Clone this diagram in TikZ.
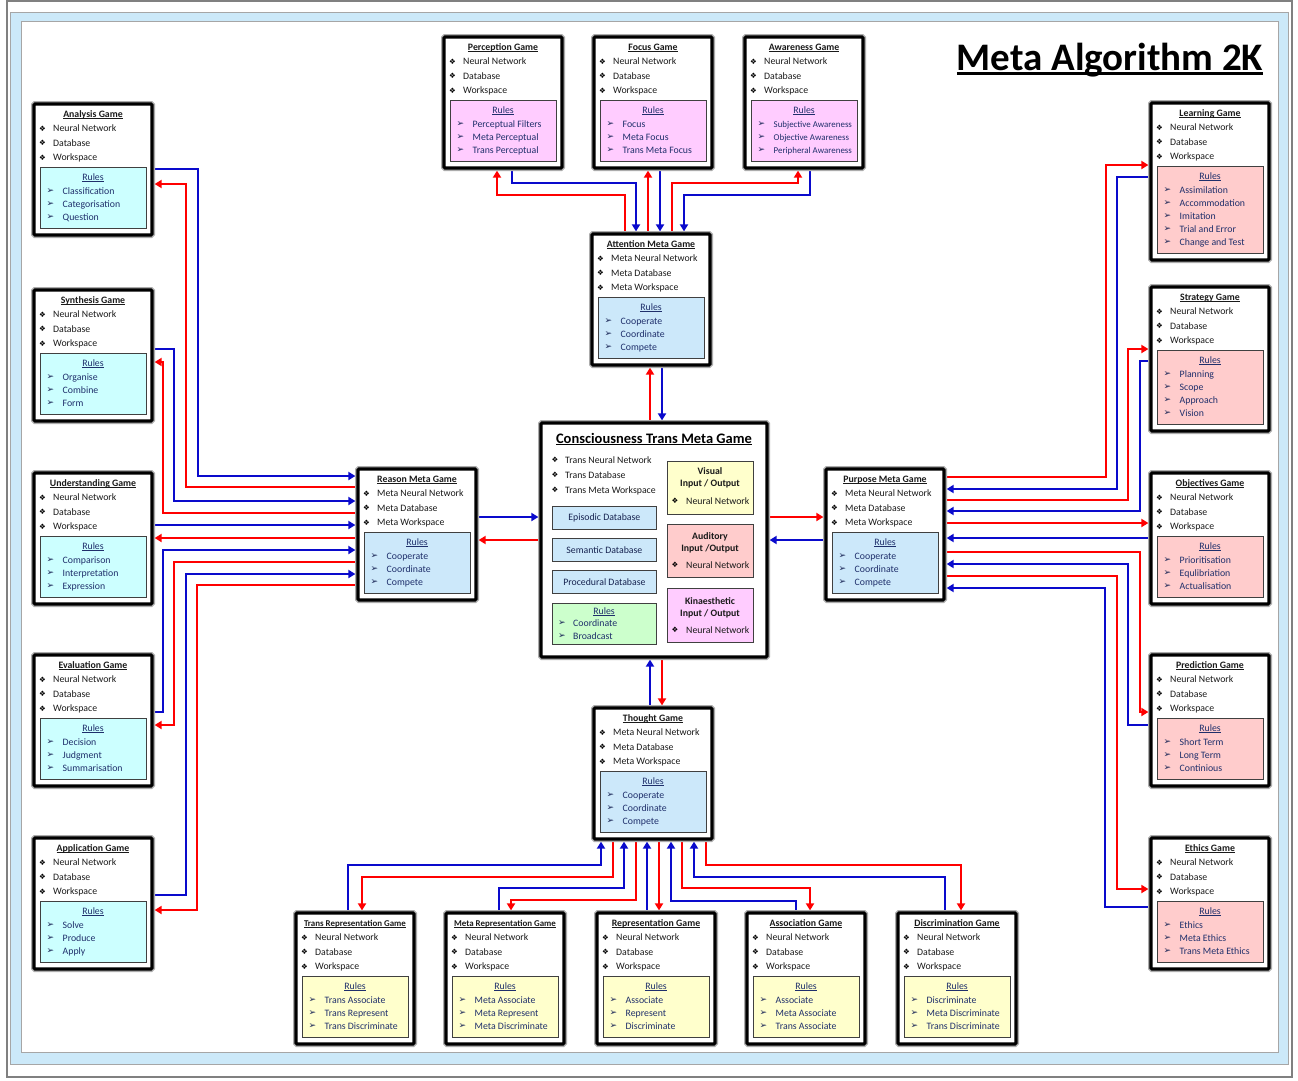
\documentclass[tikz,border=0pt]{standalone}
\usepackage{fontspec}
\setmainfont{Carlito}
\newfontfamily\dejavu{DejaVu Sans}
\usetikzlibrary{arrows.meta,calc}
\definecolor{cyanf}{HTML}{CCFFFF}
\definecolor{pinkf}{HTML}{FFCCFF}
\definecolor{bluef}{HTML}{CCE8FA}
\definecolor{redf}{HTML}{FFCCCC}
\definecolor{yellowf}{HTML}{FFFFCC}
\definecolor{greenf}{HTML}{CCFFCC}
\definecolor{framef}{HTML}{CCE9F9}
\definecolor{navy}{HTML}{1F2F6B}
\definecolor{lred}{HTML}{FF0000}
\definecolor{lblue}{HTML}{0A0ACC}
\definecolor{ink}{HTML}{1A1A1A}
\pgfdeclarelayer{bg}
\pgfdeclarelayer{lines}
\pgfsetlayers{bg,lines,main}

\newcommand\ulx[1]{\setbox0\hbox{#1}\rlap{\rule[-1.3pt]{\wd0}{0.65pt}}\box0}
\newcommand\dia{{\dejavu\fontsize{7.5}{7.5}\selectfont\char"2756}}
\newcommand\arr{{\dejavu\fontsize{9}{9}\selectfont\color{navy!80!black}\char"27A2}}
\newcommand\sm{\fontsize{8.9}{10}\selectfont}

\tikzset{
  gbox/.style={preaction={draw=gray!65,line width=6pt}, draw=black, line width=3.2pt, fill=white, minimum width=118pt, inner sep=0pt, outer sep=0pt, rounded corners=1.2pt},
  rbox/.style={draw=gray!50!black, line width=0.8pt, minimum width=106pt, inner sep=0pt},
  ibox/.style={draw=gray!50!black, line width=0.8pt, inner sep=0pt, anchor=north west},
  txt/.style={inner sep=0pt, text=ink, font=\fontsize{9.8}{11}\selectfont},
  btxt/.style={txt, font=\fontsize{9.8}{11}\selectfont\bfseries, anchor=base},
  rtxt/.style={txt, text=navy},
  rline/.style={draw=lred, line width=2.4pt, -{Triangle[length=7pt,width=8pt]}, shorten >=2.6pt},
  bline/.style={draw=lblue, line width=2.4pt, -{Triangle[length=7pt,width=8pt]}, shorten >=2.6pt},
}

% #1 name, #2 x, #3 y, #4 number of rules, #5 title, #6 items, #7 fill, #8 rules, #9 title size
\newcommand\gamebox[9]{%
  \pgfmathsetmacro\rh{22+13*#4}%
  \pgfmathsetmacro\bh{70+22+13*#4}%
  \node[gbox, minimum height=\bh pt, anchor=north west] (#1) at (#2,#3) {};
  \node[rbox, fill=#7, minimum height=\rh pt, anchor=north] (#1-r) at ($(#1.north)+(0,63)$) {};
  \node[txt, anchor=base, font=\fontsize{#9}{11}\selectfont\bfseries] at ($(#1.north)+(0,13.3)$) {\ulx{#5}};
  \foreach \itm [count=\cnt] in {#6} {
    \node[inner sep=0pt] at ($(#1.north west)+(8.5,10+14.5*\cnt)$) {\dia};
    \node[txt, anchor=base west] at ($(#1.north west)+(19,13.3+14.5*\cnt)$) {\itm};
  }
  \node[rtxt, anchor=base] at ($(#1.north)+(0,76.3)$) {\ulx{Rules}};
  \foreach \itm [count=\cnt] in {#8} {
    \node[inner sep=0pt] at ($(#1.north west)+(16.5,74.3+13*\cnt)$) {\arr};
    \node[rtxt, anchor=base west] at ($(#1.north west)+(28.5,77.3+13*\cnt)$) {\itm};
  }%
}

\begin{document}
\begin{tikzpicture}[x=1pt,y=-1pt]
\useasboundingbox (0,0) rectangle (1298,1080);
\begin{pgfonlayer}{bg}
  \fill[white] (0,0) rectangle (1298,1080);
  \draw[gray, line width=1.2pt] (7,1) rectangle (1292,1077);
  \draw[fill=framef, draw=gray!70, line width=0.8pt] (10,12) rectangle (1288,1064);
  \draw[fill=white, draw=gray!70, line width=0.8pt] (21,21) rectangle (1278,1052);
\end{pgfonlayer}

% title
\node[anchor=base, inner sep=0pt, font=\fontsize{39}{40}\selectfont\bfseries, text=black] (title) at (1110,70)
  {\setbox0\hbox{Meta Algorithm 2K}\rlap{\rule[-4.8pt]{\wd0}{2.6pt}}\box0};

% left column
\gamebox{analysis}{34}{104}{3}{Analysis Game}{Neural Network,Database,Workspace}{cyanf}{Classification,Categorisation,Question}{9.8}
\gamebox{synthesis}{34}{290}{3}{Synthesis Game}{Neural Network,Database,Workspace}{cyanf}{Organise,Combine,Form}{9.8}
\gamebox{understanding}{34}{473}{3}{Understanding Game}{Neural Network,Database,Workspace}{cyanf}{Comparison,Interpretation,Expression}{9.8}
\gamebox{evaluation}{34}{655}{3}{Evaluation Game}{Neural Network,Database,Workspace}{cyanf}{Decision,Judgment,Summarisation}{9.8}
\gamebox{application}{34}{838}{3}{Application Game}{Neural Network,Database,Workspace}{cyanf}{Solve,Produce,Apply}{9.8}

% right column
\gamebox{learning}{1151}{103}{5}{Learning Game}{Neural Network,Database,Workspace}{redf}{Assimilation,Accommodation,Imitation,Trial and Error,Change and Test}{9.8}
\gamebox{strategy}{1151}{287}{4}{Strategy Game}{Neural Network,Database,Workspace}{redf}{Planning,Scope,Approach,Vision}{9.8}
\gamebox{objectives}{1151}{473}{3}{Objectives Game}{Neural Network,Database,Workspace}{redf}{Prioritisation,Equlibriation,Actualisation}{9.8}
\gamebox{prediction}{1151}{655}{3}{Prediction Game}{Neural Network,Database,Workspace}{redf}{Short Term,Long Term,Continious}{9.8}
\gamebox{ethics}{1151}{838}{3}{Ethics Game}{Neural Network,Database,Workspace}{redf}{Ethics,Meta Ethics,Trans Meta Ethics}{9.8}

% top row
\gamebox{perception}{444}{37}{3}{Perception Game}{Neural Network,Database,Workspace}{pinkf}{Perceptual Filters,Meta Perceptual,Trans Perceptual}{9.8}
\gamebox{focus}{594}{37}{3}{Focus Game}{Neural Network,Database,Workspace}{pinkf}{Focus,Meta Focus,Trans Meta Focus}{9.8}
\gamebox{awareness}{745}{37}{3}{Awareness Game}{Neural Network,Database,Workspace}{pinkf}{\sm Subjective Awareness,\sm Objective Awareness,\sm Peripheral Awareness}{9.8}

% meta games
\gamebox{attention}{592}{234}{3}{Attention Meta Game}{Meta Neural Network,Meta Database,Meta Workspace}{bluef}{Cooperate,Coordinate,Compete}{9.8}
\gamebox{reason}{358}{469}{3}{Reason Meta Game}{Meta Neural Network,Meta Database,Meta Workspace}{bluef}{Cooperate,Coordinate,Compete}{9.8}
\gamebox{purpose}{826}{469}{3}{Purpose Meta Game}{Meta Neural Network,Meta Database,Meta Workspace}{bluef}{Cooperate,Coordinate,Compete}{9.8}
\gamebox{thought}{594}{708}{3}{Thought Game}{Meta Neural Network,Meta Database,Meta Workspace}{bluef}{Cooperate,Coordinate,Compete}{9.8}

% bottom row
\gamebox{transrep}{296}{913}{3}{Trans Representation Game}{Neural Network,Database,Workspace}{yellowf}{Trans Associate,Trans Represent,Trans Discriminate}{8.9}
\gamebox{metarep}{446}{913}{3}{Meta Representation Game}{Neural Network,Database,Workspace}{yellowf}{Meta Associate,Meta Represent,Meta Discriminate}{8.9}
\gamebox{rep}{597}{913}{3}{Representation Game}{Neural Network,Database,Workspace}{yellowf}{Associate,Represent,Discriminate}{9.8}
\gamebox{assoc}{747}{913}{3}{Association Game}{Neural Network,Database,Workspace}{yellowf}{Associate,Meta Associate,Trans Associate}{9.8}
\gamebox{discr}{898}{913}{3}{Discrimination Game}{Neural Network,Database,Workspace}{yellowf}{Discriminate,Meta Discriminate,Trans Discriminate}{9.8}

% central box
\node[gbox, minimum width=226pt, minimum height=234pt, anchor=north west] (cons) at (541,423) {};
\node[txt, anchor=base, font=\fontsize{14.5}{16}\selectfont\bfseries, text=black] (constitle) at (654,443)
  {\setbox0\hbox{Consciousness Trans Meta Game}\rlap{\rule[-2pt]{\wd0}{1pt}}\box0};
\foreach \itm [count=\cnt] in {Trans Neural Network,Trans Database,Trans Meta Workspace} {
  \node[inner sep=0pt] at (555,445+15*\cnt) {\dia};
  \node[txt, anchor=base west] at (565,448.3+15*\cnt) {\itm};
}
\node[ibox, fill=bluef, minimum width=104pt, minimum height=23pt, font=\fontsize{9.8}{11}\selectfont, text=navy!75!black] (episodic) at (552,506) {Episodic Database};
\node[ibox, fill=bluef, minimum width=104pt, minimum height=23pt, font=\fontsize{9.8}{11}\selectfont, text=navy!75!black] (semantic) at (552,538) {Semantic Database};
\node[ibox, fill=bluef, minimum width=104pt, minimum height=23pt, font=\fontsize{9.8}{11}\selectfont, text=navy!75!black] (procedural) at (552,570) {Procedural Database};
\node[ibox, fill=greenf, minimum width=104pt, minimum height=41pt] (crules) at (552,603) {};
\node[rtxt, anchor=base] at (604,614.3) {\ulx{Rules}};
\node[inner sep=0pt] at (562,623.3) {\arr};
\node[rtxt, anchor=base west] at (573,626.3) {Coordinate};
\node[inner sep=0pt] at (562,636.3) {\arr};
\node[rtxt, anchor=base west] at (573,639.3) {Broadcast};

\node[ibox, fill=yellowf, minimum width=86pt, minimum height=53pt] (visual) at (667,461) {};
\node[btxt] at (710,474.3) {Visual};
\node[btxt] at (710,486.3) {Input / Output};
\node[inner sep=0pt] at (675,501) {\dia};
\node[txt, anchor=base west] at (686,504.3) {Neural Network};

\node[ibox, fill=redf, minimum width=86pt, minimum height=53pt] (auditory) at (667,524) {};
\node[btxt] at (710,539.3) {Auditory};
\node[btxt] at (710,551.3) {Input /Output};
\node[inner sep=0pt] at (675,565) {\dia};
\node[txt, anchor=base west] at (686,568.3) {Neural Network};

\node[ibox, fill=pinkf, minimum width=86pt, minimum height=54pt] (kinaesthetic) at (667,588) {};
\node[btxt] at (710,604.3) {Kinaesthetic};
\node[btxt] at (710,616.3) {Input / Output};
\node[inner sep=0pt] at (675,630) {\dia};
\node[txt, anchor=base west] at (686,633.3) {Neural Network};

\begin{pgfonlayer}{lines}
% left side
\draw[bline] (analysis.east |- 0,169) -| (198,476) -- (reason.west |- 0,476);
\draw[rline] (reason.west |- 0,487) -| (186,184) -- (analysis.east |- 0,184);
\draw[bline] (synthesis.east |- 0,349) -| (174,501) -- (reason.west |- 0,501);
\draw[rline] (reason.west |- 0,513) -| (163,362) -- (synthesis.east |- 0,362);
\draw[bline] (understanding.east |- 0,525) -- (reason.west |- 0,525);
\draw[rline] (reason.west |- 0,538) -- (understanding.east |- 0,538);
\draw[bline] (evaluation.east |- 0,712) -| (163,550) -- (reason.west |- 0,550);
\draw[rline] (reason.west |- 0,562) -| (174,725) -- (evaluation.east |- 0,725);
\draw[bline] (application.east |- 0,895) -| (186,574) -- (reason.west |- 0,574);
\draw[rline] (reason.west |- 0,585) -| (197,910) -- (application.east |- 0,910);
% right side
\draw[rline] (purpose.east |- 0,477) -| (1106,165) -- (learning.west |- 0,165);
\draw[bline] (learning.west |- 0,177) -| (1117,489) -- (purpose.east |- 0,489);
\draw[rline] (purpose.east |- 0,500) -| (1128,349) -- (strategy.west |- 0,349);
\draw[bline] (strategy.west |- 0,361) -| (1140,511) -- (purpose.east |- 0,511);
\draw[rline] (purpose.east |- 0,523) -- (objectives.west |- 0,523);
\draw[bline] (objectives.west |- 0,538) -- (purpose.east |- 0,538);
\draw[rline] (purpose.east |- 0,552) -| (1140,712) -- (prediction.west |- 0,712);
\draw[bline] (prediction.west |- 0,725) -| (1128,564) -- (purpose.east |- 0,564);
\draw[rline] (purpose.east |- 0,576) -| (1117,889) -- (ethics.west |- 0,889);
\draw[bline] (ethics.west |- 0,907) -| (1105,588) -- (purpose.east |- 0,588);
% top
\draw[rline] (attention.north -| 625,0) |- (497,195) -- (perception.south -| 497,0);
\draw[bline] (perception.south -| 512,0) |- (636,183) -- (attention.north -| 636,0);
\draw[rline] (attention.north -| 648,0) -- (focus.south -| 648,0);
\draw[bline] (focus.south -| 660,0) -- (attention.north -| 660,0);
\draw[rline] (attention.north -| 672,0) |- (798,183) -- (awareness.south -| 798,0);
\draw[bline] (awareness.south -| 810,0) |- (684,195) -- (attention.north -| 684,0);
% centre
\draw[rline] (cons.north -| 650,0) -- (attention.south -| 650,0);
\draw[bline] (attention.south -| 662,0) -- (cons.north -| 662,0);
\draw[bline] (thought.north -| 650,0) -- (cons.south -| 650,0);
\draw[rline] (cons.south -| 662,0) -- (thought.north -| 662,0);
\draw[bline] (reason.east |- 0,517) -- (cons.west |- 0,517);
\draw[rline] (cons.west |- 0,540) -- (reason.east |- 0,540);
\draw[rline] (cons.east |- 0,517) -- (purpose.west |- 0,517);
\draw[bline] (purpose.west |- 0,540) -- (cons.east |- 0,540);
% bottom
\draw[bline] (transrep.north -| 348,0) |- (601,865) -- (thought.south -| 601,0);
\draw[rline] (thought.south -| 613,0) |- (362,877) -- (transrep.north -| 362,0);
\draw[bline] (metarep.north -| 499,0) |- (624,888) -- (thought.south -| 624,0);
\draw[rline] (thought.south -| 636,0) |- (511,900) -- (metarep.north -| 511,0);
\draw[bline] (rep.north -| 647,0) -- (thought.south -| 647,0);
\draw[rline] (thought.south -| 659,0) -- (rep.north -| 659,0);
\draw[bline] (assoc.north -| 796,0) |- (671,901) -- (thought.south -| 671,0);
\draw[rline] (thought.south -| 682,0) |- (810,888) -- (assoc.north -| 810,0);
\draw[bline] (discr.north -| 945,0) |- (694,877) -- (thought.south -| 694,0);
\draw[rline] (thought.south -| 706,0) |- (961,865) -- (discr.north -| 961,0);
\end{pgfonlayer}
\end{tikzpicture}
\end{document}
